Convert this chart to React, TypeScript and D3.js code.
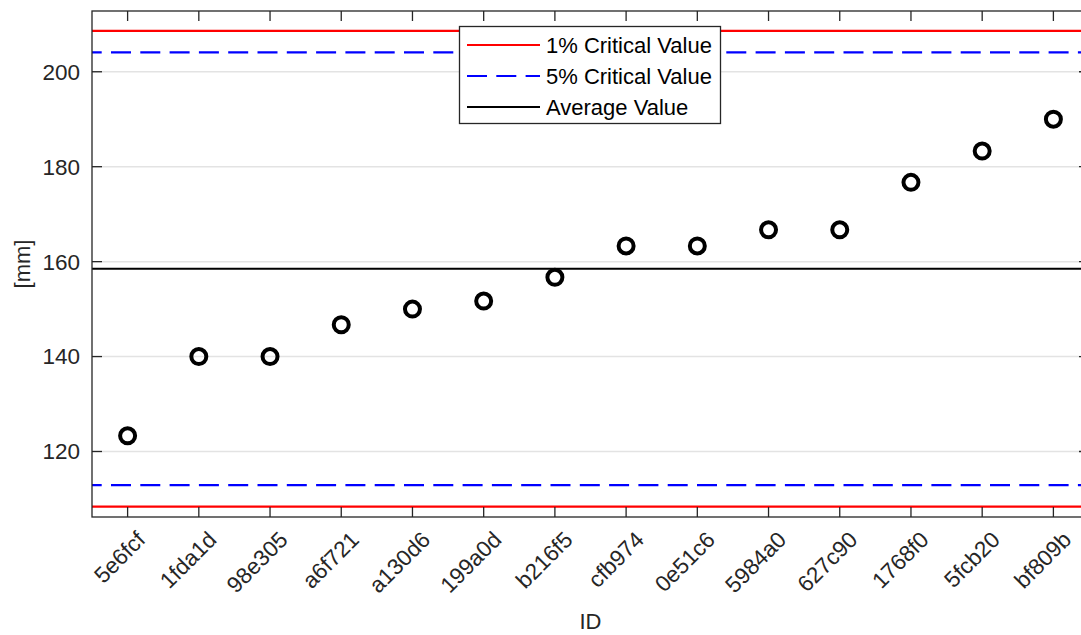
import React from "react";
import * as d3 from "d3";

// Sample IDs, sorted by measured value
const ids = ["5e6fcf", "1fda1d", "98e305", "a6f721", "a130d6", "199a0d", "b216f5",
  "cfb974", "0e51c6", "5984a0", "627c90", "1768f0", "5fcb20", "bf809b"];
// Measured values [mm]
const values = [123.3, 140, 140, 146.7, 150, 151.7, 156.7, 163.3, 163.3, 166.7, 166.7, 176.7, 183.3, 190];
// Reference lines
const critical1 = [108.4, 208.6];
const critical5 = [112.9, 204.1];
const averageValue = 158.5;
const yTicks = [120, 140, 160, 180, 200];
const legendLabels = ["1% Critical Value", "5% Critical Value", "Average Value"];

const W = 1081;
const H = 635;
const M = { left: 92, top: 11, right: 1089, bottom: 517 };
const AX = "#262626";
const FONT = "'Liberation Sans', Arial, Helvetica, sans-serif";

export default function App() {
  const x = d3.scaleLinear().domain([0.5, ids.length + 0.5]).range([M.left, M.right]);
  const y = d3.scaleLinear().domain([106.2, 212.8]).range([M.bottom, M.top]);
  const tickLen = 10;

  const hline = (v: number, color: string, dashed: boolean, key: string) => (
    <line key={key} x1={M.left} x2={M.right} y1={y(v)} y2={y(v)} stroke={color} strokeWidth={2.2}
      strokeDasharray={dashed ? "20 9.3" : undefined} strokeDashoffset={dashed ? 10.3 : undefined} />
  );

  const legendX = 459.5, legendY = 26.5, legendW = 261, legendH = 97;
  const legendRows = [
    { color: "#ff0000", dashed: false },
    { color: "#0000ff", dashed: true },
    { color: "#000000", dashed: false },
  ];

  return (
    <svg width={W} height={H} style={{ position: "fixed", left: 0, top: 0, background: "#fff" }}
      fontFamily={FONT}>
      <rect x={0} y={0} width={W} height={H} fill="#fff" />
      {/* horizontal grid */}
      {yTicks.map((t) => (
        <line key={"g" + t} x1={M.left} x2={M.right} y1={y(t)} y2={y(t)} stroke="#e3e3e3" strokeWidth={1.5} />
      ))}
      {/* reference lines */}
      {hline(critical1[0], "#ff0000", false, "c1a")}
      {hline(critical1[1], "#ff0000", false, "c1b")}
      {hline(critical5[0], "#0000ff", true, "c5a")}
      {hline(critical5[1], "#0000ff", true, "c5b")}
      {hline(averageValue, "#000000", false, "avg")}
      {/* data markers */}
      {values.map((v, i) => (
        <circle key={"p" + i} cx={x(i + 1)} cy={y(v)} r={7.5} fill="none" stroke="#000" strokeWidth={4} />
      ))}
      {/* axes box */}
      <rect x={M.left} y={M.top} width={M.right - M.left} height={M.bottom - M.top} fill="none" stroke={AX} strokeWidth={1.3} />
      {/* x ticks */}
      {ids.map((id, i) => {
        const px = x(i + 1);
        return (
          <g key={"xt" + id}>
            <line x1={px} x2={px} y1={M.bottom} y2={M.bottom - tickLen} stroke={AX} strokeWidth={1.3} />
            <line x1={px} x2={px} y1={M.top} y2={M.top + tickLen} stroke={AX} strokeWidth={1.3} />
            <text transform={`translate(${px + 8},${M.bottom + 13}) rotate(-45)`} textAnchor="end"
              dy="0.7em" fontSize={22.5} fill={AX}>{id}</text>
          </g>
        );
      })}
      {/* y ticks */}
      {yTicks.map((t) => (
        <g key={"yt" + t}>
          <line x1={M.left} x2={M.left + tickLen} y1={y(t)} y2={y(t)} stroke={AX} strokeWidth={1.3} />
          <line x1={M.right} x2={M.right - tickLen} y1={y(t)} y2={y(t)} stroke={AX} strokeWidth={1.3} />
          <text x={M.left - 12} y={y(t)} dy="0.35em" textAnchor="end" fontSize={22.5} fill={AX}>{t}</text>
        </g>
      ))}
      {/* axis labels */}
      <text transform={`translate(30,${(M.top + M.bottom) / 2}) rotate(-90)`} textAnchor="middle"
        fontSize={22} fill={AX}>[mm]</text>
      <text x={(M.left + M.right) / 2} y={629} textAnchor="middle" fontSize={22} fill={AX}>ID</text>
      {/* legend */}
      <rect x={legendX} y={legendY} width={legendW} height={legendH} fill="#fff" stroke={AX} strokeWidth={1.3} />
      {legendRows.map((r, i) => {
        const ly = 45 + i * 31;
        return (
          <g key={"lg" + i}>
            <line x1={467} x2={540} y1={ly} y2={ly} stroke={r.color} strokeWidth={2.2}
              strokeDasharray={r.dashed ? "20 9.3" : undefined} />
            <text x={546} y={ly} dy="0.36em" fontSize={22} fill="#000">{legendLabels[i]}</text>
          </g>
        );
      })}
    </svg>
  );
}
